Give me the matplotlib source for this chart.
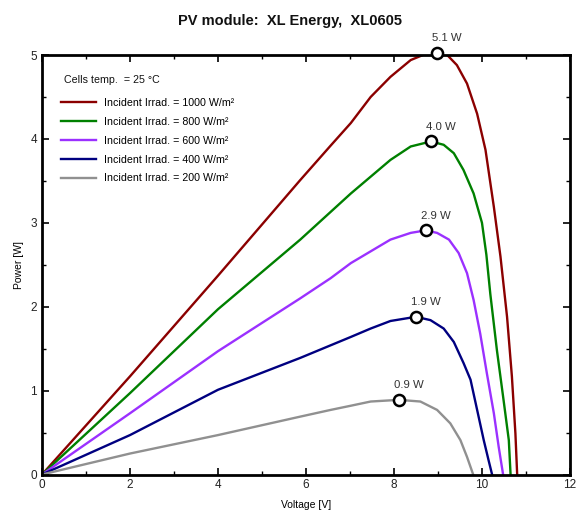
import matplotlib
matplotlib.use("Agg")
import matplotlib.pyplot as plt
from matplotlib.ticker import MultipleLocator

plt.rcParams['font.family'] = ['Liberation Sans', 'DejaVu Sans']

labels = ["Incident Irrad. = 1000 W/m²", "Incident Irrad. = 800 W/m²",
          "Incident Irrad. = 600 W/m²", "Incident Irrad. = 400 W/m²",
          "Incident Irrad. = 200 W/m²"]
colors = ["#8B0000", "#008000", "#9B30FF", "#000080", "#909090"]

v_1000 = [0, 2, 4, 5.87, 6.56, 7.02, 7.47, 7.92, 8.38, 8.75, 8.97, 9.21, 9.43,
          9.66, 9.89, 10.08, 10.27, 10.42, 10.57, 10.68, 10.76, 10.80]
p_1000 = [0, 1.17, 2.37, 3.51, 3.92, 4.19, 4.50, 4.74, 4.94, 5.02, 5.03, 5.00, 4.88,
          4.66, 4.30, 3.87, 3.19, 2.60, 1.88, 1.17, 0.49, 0]

v_800 = [0, 2, 4, 5.87, 6.56, 7.02, 7.47, 7.92, 8.38, 8.84, 9.13, 9.36, 9.58,
         9.81, 10.0, 10.10, 10.19, 10.34, 10.49, 10.61, 10.65]
p_800 = [0, 0.97, 1.97, 2.80, 3.13, 3.35, 3.55, 3.75, 3.91, 3.97, 3.93, 3.83, 3.63,
         3.35, 3.00, 2.62, 2.15, 1.48, 0.89, 0.41, 0]

v_600 = [0, 2, 4, 5.87, 6.56, 7.02, 7.47, 7.92, 8.38, 8.72, 8.98, 9.25, 9.47,
         9.66, 9.81, 9.96, 10.11, 10.27, 10.38, 10.48]
p_600 = [0, 0.73, 1.47, 2.10, 2.34, 2.52, 2.66, 2.80, 2.88, 2.91, 2.88, 2.80, 2.64,
         2.40, 2.08, 1.68, 1.21, 0.73, 0.33, 0]

v_400 = [0, 2, 4, 5.87, 6.56, 7.02, 7.47, 7.92, 8.50, 8.83, 9.13, 9.36, 9.58,
         9.74, 9.89, 10.04, 10.15, 10.23]
p_400 = [0, 0.47, 1.01, 1.39, 1.54, 1.64, 1.74, 1.83, 1.88, 1.84, 1.74, 1.58, 1.33,
         1.13, 0.77, 0.41, 0.17, 0]

v_200 = [0, 2, 4, 5.87, 6.56, 7.02, 7.47, 8.11, 8.60, 8.98, 9.28, 9.51, 9.66, 9.80]
p_200 = [0, 0.25, 0.47, 0.69, 0.77, 0.82, 0.87, 0.89, 0.87, 0.77, 0.61, 0.41, 0.21, 0]

mpp_v = [8.97, 8.84, 8.72, 8.50, 8.11]
mpp_p = [5.03, 3.97, 2.91, 1.88, 0.89]
mpp_labels = ["5.1 W", "4.0 W", "2.9 W", "1.9 W", "0.9 W"]

series_v = [v_1000, v_800, v_600, v_400, v_200]
series_p = [p_1000, p_800, p_600, p_400, p_200]

fig = plt.figure(figsize=(5.8, 5.11), dpi=100)
ax = fig.add_axes([0.0724, 0.0714, 0.9103, 0.8209])

for v, p, c, lab in zip(series_v, series_p, colors, labels):
    ax.plot(v, p, color=c, lw=1.7, label=lab, solid_joinstyle='round')

for v, p, t in zip(mpp_v, mpp_p, mpp_labels):
    ax.plot([v], [p], marker='o', ms=8, mfc='white', mec='black', mew=1.8,
            clip_on=False, zorder=5)
    ax.annotate(t, (v, p), xytext=(7, 7), textcoords='offset points',
                ha='center', va='bottom', fontsize=8.2, color='#333333',
                annotation_clip=False)

ax.set_xlim(0, 12)
ax.set_ylim(0, 5)
ax.xaxis.set_major_locator(MultipleLocator(2))
ax.xaxis.set_minor_locator(MultipleLocator(1))
ax.yaxis.set_major_locator(MultipleLocator(1))
ax.yaxis.set_minor_locator(MultipleLocator(0.5))
ax.tick_params(which='both', direction='in', top=True, right=True, labelsize=8.5,
               colors='black', labelcolor='#222222')
ax.tick_params(which='major', length=5, width=1.2)
ax.tick_params(which='minor', length=3, width=1.0)
for s in ax.spines.values():
    s.set_linewidth(2)

ax.set_xlabel("Voltage [V]", fontsize=7.5, labelpad=6)
ax.set_ylabel("Power [W]", fontsize=7.5, labelpad=5)
fig.text(0.5, 0.958, "PV module:  XL Energy,  XL0605", ha='center', va='center',
         fontsize=10.5, fontweight='bold', color='#111111')

ax.text(0.041, 0.940, "Cells temp.  = 25 °C", transform=ax.transAxes,
        ha='left', va='center', fontsize=7.7, color='#111111')
leg = ax.legend(loc='upper left', bbox_to_anchor=(0.036, 0.897), frameon=False,
                fontsize=7.7, borderaxespad=0, borderpad=0,
                handlelength=3.3, labelspacing=0.82, handletextpad=0.75)

fig.savefig("out.png", dpi=100)
